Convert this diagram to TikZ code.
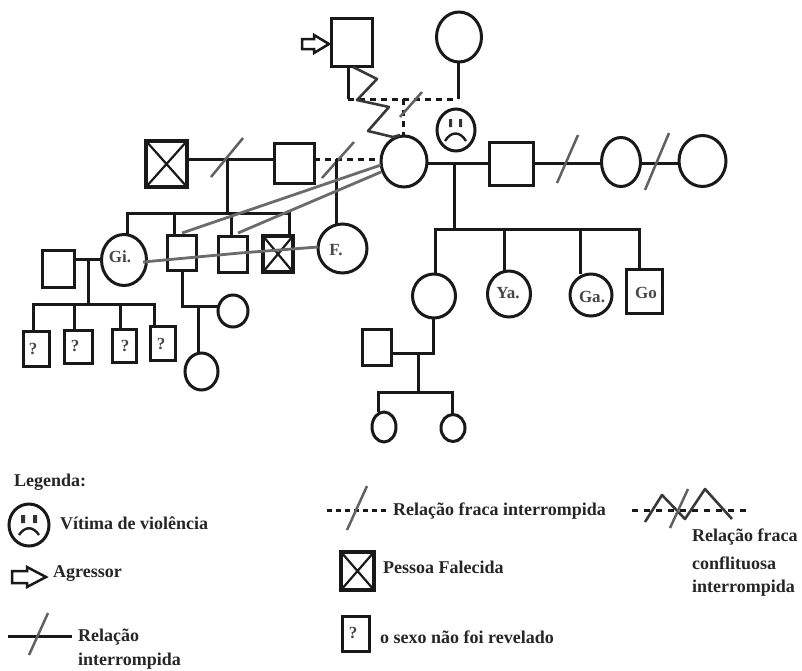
\documentclass[tikz,border=0pt]{standalone}
\usepackage{fontspec}
\setmainfont{Liberation Serif}
\usetikzlibrary{shapes.geometric}
\tikzset{
  x=1pt,y=-1pt,
  ln/.style={draw=black!90,line width=3pt},
  person/.style={draw=black!90,line width=3pt,fill=white,inner sep=0pt,outer sep=0pt,font=\fontsize{17}{17}\selectfont\bfseries,text=black!72},
  sqr/.style 2 args={person,rectangle,minimum width=#1,minimum height=#2},
  ovl/.style 2 args={person,ellipse,minimum width=#1,minimum height=#2},
  heavy/.style={line width=3.8pt},
  txt/.style={inner sep=0pt,font=\fontsize{17}{17}\selectfont\bfseries,text=black!72},
  gr/.style={draw=black!58,line width=2.8pt,line join=round},
  dsh/.style={draw=black!90,line width=3pt,dash pattern=on 6pt off 5pt},
  slash/.style={draw=black!62,line width=2.5pt},
  zig/.style={draw=black!78,line width=2.6pt,line join=round},
  crs/.style={draw=black!90,line width=2.2pt},
  lab/.style={anchor=west,inner sep=0pt,font=\fontsize{18}{18}\selectfont\bfseries,text=black!85,align=left},
  arw/.style={line width=2.5pt,draw=black!90,fill=white,line join=miter},
  ftr/.style={draw=black!88,line width=2.4pt},
}
\begin{document}
\begin{tikzpicture}
\useasboundingbox (0,0) rectangle (802,670);
\fill[white] (0,0) rectangle (802,670);
% persons
\node[sqr={41}{48}] (agr) at (351.5,42) {};
\node[ovl={45}{50}] (mae) at (459,37) {};
\node[sqr={41}{46},heavy] (xm) at (166.5,164) {};
\node[sqr={40}{40}] (h2) at (294,163.5) {};
\node[ovl={46}{51}] (vit) at (404,161.5) {};
\node[sqr={44}{43}] (h3) at (511,163.5) {};
\node[ovl={39}{49}] (w1) at (621,162) {};
\node[ovl={47}{51}] (w2) at (702.5,161) {};
\node[ovl={45}{51}] (gi) at (124,260) {};
\node[sqr={29}{35}] (s1) at (181.5,252.5) {};
\node[sqr={29}{36}] (s2) at (232.5,254) {};
\node[sqr={30}{36},heavy] (dd) at (278,254) {};
\node[ovl={49}{49}] (ff) at (342.5,248.5) {};
\node[sqr={32}{37}] (gp) at (58,268.5) {};
\node[ovl={30}{32}] (sw) at (233,311) {};
\node[ovl={33}{37}] (sd) at (201.5,371.5) {};
\node[ovl={43}{44}] (o1) at (434,296) {};
\node[ovl={43}{46}] (ya) at (509,294) {};
\node[ovl={42}{42}] (ga) at (591,295) {};
\node[sqr={36}{44}] (go) at (644,291) {};
\node[sqr={29}{36}] (hh) at (377,347) {};
\node[ovl={24}{30}] (k1) at (384,427) {};
\node[ovl={24}{27}] (k2) at (453,428) {};
\node[sqr={26}{35}] (q1) at (36,348.5) {};
\node[sqr={28}{33}] (q2) at (78,346.5) {};
\node[sqr={24}{33}] (q3) at (124,345.5) {};
\node[sqr={25}{34}] (q4) at (162.5,343) {};
\node[ovl={38}{42}] (sm) at (456,130) {};
% couple above the victim
\coordinate (j1) at (348,99);
\coordinate (j2) at (458,99);
\draw[ln] (agr.south -| j1) -- (j1);
\draw[ln] (mae.south -| j2) -- (j2);
\draw[dsh] (j1) -- (j2);
\coordinate (j3) at (403,99);
\draw[dsh] (j3) -- (vit.north -| j3);
\draw[slash] (400,117) -- (422,92);
% middle generation
\coordinate (y1) at (0,159);
\coordinate (y2) at (0,163);
\coordinate (b1) at (227,213);
\draw[ln] (xm.east |- y1) -- (h2.west |- y1);
\draw[ln] (227,159) -- (b1);
\draw[slash] (211,177) -- (243,138);
\draw[dsh] (h2.east |- y1) -- (vit.west |- y1);
\draw[slash] (322,178) -- (354,142);
\draw[ln] (336,159) -- (ff.north -| 336,0);
\draw[ln] (vit.east |- y2) -- (h3.west |- y2);
\draw[ln] (h3.east |- y2) -- (w1.west |- y2);
\draw[slash] (557,183) -- (578,135);
\draw[ln] (w1.east |- y2) -- (w2.west |- y2);
\draw[slash] (645,190) -- (669,133);
% children of the victim
\coordinate (b2) at (454,229);
\draw[ln] (454,163) -- (b2);
\draw[ln] (o1.north -| 435,0) -- (435,229) -- (639,229) -- (go.north -| 639,0);
\draw[ln] (504,229) -- (ya.north -| 504,0);
\draw[ln] (580,229) -- (ga.north -| 580,0);
\draw[ln] (o1.south -| 433,0) -- (433,353) -- (hh.east |- 0,353);
\draw[ln] (418,353) -- (418,392);
\draw[ln] (k1.north -| 378,0) -- (378,392) -- (452,392) -- (k2.north -| 452,0);
% children of the first couple
\draw[ln] (gi.north -| 127,0) -- (127,213) -- (289,213) -- (dd.north -| 289,0);
\draw[ln] (174,213) -- (s1.north -| 174,0);
\draw[ln] (231,213) -- (s2.north -| 231,0);
\draw[ln] (gp.east |- 0,259) -- (gi.west |- 0,259);
\draw[ln] (88,259) -- (88,304);
\draw[ln] (q1.north -| 33,0) -- (33,304) -- (154,304) -- (q4.north -| 154,0);
\draw[ln] (74,304) -- (q2.north -| 74,0);
\draw[ln] (120,304) -- (q3.north -| 120,0);
\draw[ln] (s1.south -| 182,0) -- (182,306) -- (sw.west |- 0,306);
\draw[ln] (198,306) -- (sd.north -| 198,0);
% crosses
\draw[crs] (dd.north west) -- (dd.south east) (dd.north east) -- (dd.south west);
\draw[crs] (xm.north west) -- (xm.south east) (xm.north east) -- (xm.south west);
% labels
\node[txt] at (120,257) {Gi.};
\node[txt] at (336,250) {F.};
\node[txt] at (508,293) {Ya.};
\node[txt] at (592,297) {Ga.};
\node[txt] at (646,293) {Go};
\node[txt] at (33,349) {?};
\node[txt] at (75,346) {?};
\node[txt] at (125,346) {?};
\node[txt] at (161,344) {?};
% conflict lines
\draw[gr] (vit.west |- 0,165) -- (182,233);
\draw[gr] (vit.west |- 0,172) -- (238,233);
\draw[gr] (143,262) -- (240,253) -- (ff.west |- 0,247);
% zigzag
\draw[zig] (353,67) -- (377,79) -- (357,100) -- (389,107) -- (368,131) -- (393,137) -- (400,135);
% aggressor arrow
\draw[arw] (302,39) -- (314,39) -- (314,35) -- (329,44) -- (314,53) -- (314,49) -- (302,49) -- cycle;
% smiley
\fill[black!80] (449,119) rectangle (452,127) (459,119) rectangle (462,127);
\draw[ftr] (445,141) .. controls (451,131) and (460,131) .. (466,141);
% legend
\node[lab] at (14,482) {Legenda:};
\node[ovl={40}{42}] (lsm) at (29,525) {};
\fill[black!80] (21,515) rectangle (25,523) (33,515) rectangle (37,523);
\draw[ftr] (19,535) .. controls (25,526) and (33,526) .. (39,535);
\node[lab] at (60,523) {Vítima de violência};
\draw[arw] (12,571) -- (27,571) -- (27,567) -- (46,577) -- (27,587) -- (27,583) -- (12,583) -- cycle;
\node[lab] at (53,574) {Agressor};
\draw[ln] (8,636) -- (72,636);
\draw[slash] (29,655) -- (48,613);
\node[lab] at (78,637) {Relação};
\node[lab] at (78,661) {interrompida};
\draw[dsh,dash pattern=on 5pt off 4pt] (327,510) -- (388,510);
\draw[slash] (347,530) -- (367,486);
\node[lab] at (393,511) {Relação fraca interrompida};
\node[sqr={33}{38},heavy] (ld) at (357.5,571) {};
\draw[crs] (ld.north west) -- (ld.south east) (ld.north east) -- (ld.south west);
\node[lab] at (383,567) {Pessoa Falecida};
\node[sqr={27}{35}] (lq) at (355.5,633.5) {};
\node[txt] at (353,633) {?};
\node[lab] at (380,637) {o sexo não foi revelado};
\draw[dsh,dash pattern=on 6pt off 6pt] (632,510) -- (746,510);
\draw[zig] (645,522) -- (662,495) -- (685,519) -- (705,489) -- (732,519);
\draw[slash] (670,528) -- (688,489);
\node[lab] at (692,537) {Relação fraca};
\node[lab] at (692,563) {conflituosa};
\node[lab] at (692,588) {interrompida};
\end{tikzpicture}
\end{document}
